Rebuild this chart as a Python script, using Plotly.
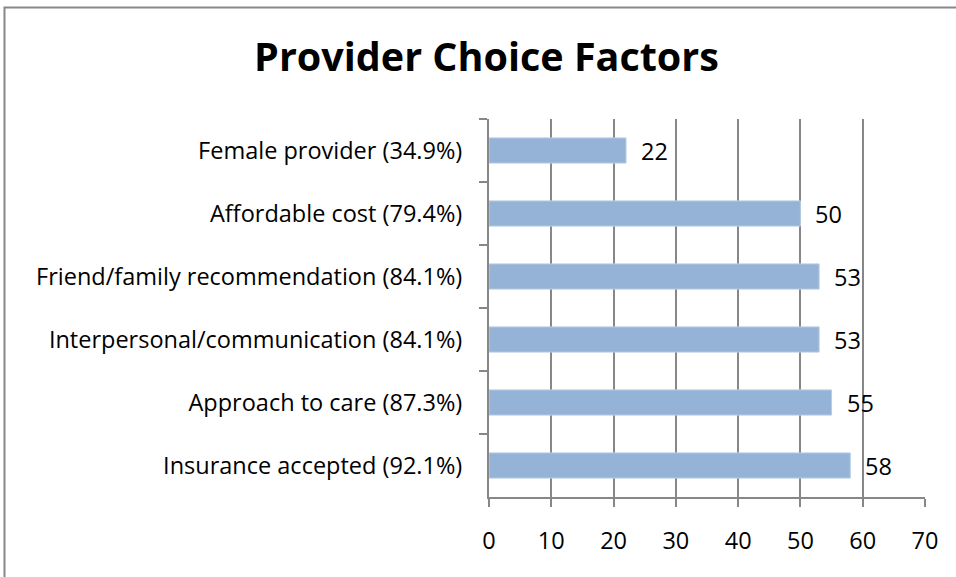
import plotly.graph_objects as go

categories = [
    "Female provider (34.9%)",
    "Affordable cost (79.4%)",
    "Friend/family recommendation (84.1%)",
    "Interpersonal/communication (84.1%)",
    "Approach to care (87.3%)",
    "Insurance accepted (92.1%)",
]
values = [22, 50, 53, 53, 55, 58]
x_ticks = [0, 10, 20, 30, 40, 50, 60, 70]

FONT = "Open Sans"
GRID = "#878787"
FS = 23.5

W, H = 956, 577
L, R, T, B = 489, 925, 119, 497

fig = go.Figure()
fig.add_trace(go.Bar(
    x=values, y=categories, orientation="h",
    marker=dict(color="#95B3D7", line=dict(color="#B9CDE5", width=1)),
    width=0.4, hoverinfo="skip",
))
for c, v in zip(categories, values):
    fig.add_annotation(x=v, y=c, text=str(v), showarrow=False, xanchor="left",
                       xshift=13, font=dict(size=FS, color="black", family=FONT))

fig.update_layout(
    width=W, height=H,
    margin=dict(l=L, r=W - R, t=T, b=H - B),
    paper_bgcolor="white", plot_bgcolor="white",
    showlegend=False,
    font=dict(family=FONT, size=FS, color="black"),
    title=dict(text="<b>Provider Choice Factors</b>", x=486.5 / W, xanchor="center",
               y=1 - 57 / H, yanchor="middle",
               font=dict(size=39.5, family=FONT, color="black")),
    xaxis=dict(range=[0, 70], tickvals=x_ticks, showgrid=True, gridcolor=GRID,
               gridwidth=2, showline=True, linecolor=GRID, linewidth=2,
               ticks="outside", ticklen=8, tickcolor=GRID, tickwidth=2,
               zeroline=False, ticklabelstandoff=14, fixedrange=True),
    yaxis=dict(autorange="reversed", showgrid=False, showline=True, linecolor=GRID,
               linewidth=2, ticks="outside", ticklen=8, tickcolor=GRID, tickwidth=2,
               tickson="boundaries", ticklabelstandoff=20, fixedrange=True),
)
# outer chart border
pw, ph = R - L, B - T
def px(x):
    return (x - L) / pw
def py(y):
    return (B - y) / ph
fig.add_shape(type="rect", xref="paper", yref="paper",
              x0=px(4.5), x1=px(970), y0=py(7.5), y1=py(600),
              line=dict(color="#888888", width=2), fillcolor="rgba(0,0,0,0)", layer="below")

fig.write_html("out.html", config={"displayModeBar": False},
               post_script="document.body.style.margin='0px';document.body.style.padding='0px';")
